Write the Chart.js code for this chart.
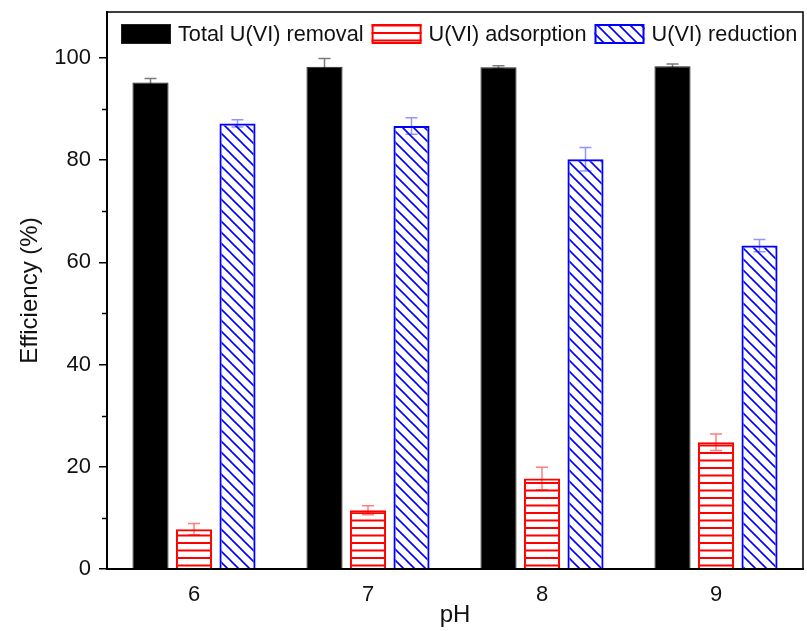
<!DOCTYPE html>
<html>
<head>
<meta charset="utf-8">
<script src="https://cdn.jsdelivr.net/npm/chart.js@4.4.0/dist/chart.umd.min.js"></script>
<style>
  html, body { margin: 0; padding: 0; background: #fff; }
</style>
</head>
<body>
<canvas id="chart" width="807" height="631"></canvas>
<script>
// pH groups and efficiencies (%)
const categories = ['6', '7', '8', '9'];
const totalRemoval = [95.2, 98.3, 98.2, 98.4];
const totalRemovalErr = [0.8, 1.6, 0.3, 0.4];
const adsorption = [7.8, 11.5, 17.7, 24.8];
const adsorptionErr = [1.1, 0.9, 2.2, 1.6];
const reduction = [87.2, 86.7, 80.2, 63.3];
const reductionErr = [0.7, 1.6, 2.3, 1.2];
const yTicks = [0, 20, 40, 60, 80, 100];
const yMinorTicks = [10, 30, 50, 70, 90];

const FONT = "'Liberation Sans', Arial, sans-serif";
const canvas = document.getElementById('chart');
const ctx = canvas.getContext('2d');

// horizontal stripes (no background, so error bars behind show through)
function hLines(color) {
  const c = document.createElement('canvas');
  c.width = 8; c.height = 15;
  const g = c.getContext('2d');
  g.strokeStyle = color;
  g.lineWidth = 1.8;
  g.beginPath();
  g.moveTo(0, 3); g.lineTo(8, 3);
  g.moveTo(0, 10.5); g.lineTo(8, 10.5);
  g.stroke();
  return ctx.createPattern(c, 'repeat');
}

// diagonal "\" hatching
function diagLines(color) {
  const s = 11;
  const c = document.createElement('canvas');
  c.width = s; c.height = s;
  const g = c.getContext('2d');
  g.strokeStyle = color;
  g.lineWidth = 1.6;
  g.beginPath();
  g.moveTo(0, 0); g.lineTo(s, s);
  g.moveTo(-2, s - 2); g.lineTo(2, s + 2);
  g.moveTo(s - 2, -2); g.lineTo(s + 2, 2);
  g.stroke();
  return ctx.createPattern(c, 'repeat');
}

// error bars are drawn behind the bars, like the original
const errorBars = {
  id: 'errorBars',
  beforeDatasetsDraw(chart) {
    const { ctx, scales: { y } } = chart;
    chart.data.datasets.forEach((ds, i) => {
      const meta = chart.getDatasetMeta(i);
      ctx.save();
      ctx.strokeStyle = ds.errColor;
      ctx.lineWidth = 1.5;
      meta.data.forEach((bar, j) => {
        const v = ds.data[j], e = ds.errors[j];
        const top = y.getPixelForValue(v + e);
        const bot = y.getPixelForValue(v - e);
        const hw = 6;
        ctx.beginPath();
        ctx.moveTo(bar.x, top); ctx.lineTo(bar.x, bot);
        ctx.moveTo(bar.x - hw, top); ctx.lineTo(bar.x + hw, top);
        ctx.moveTo(bar.x - hw, bot); ctx.lineTo(bar.x + hw, bot);
        ctx.stroke();
      });
      ctx.restore();
    });
  }
};

// top/right frame, minor y ticks and the in-plot legend row
const frame = {
  id: 'frame',
  afterDraw(chart) {
    const { ctx, chartArea: a, scales: { y } } = chart;
    ctx.save();
    ctx.strokeStyle = '#000';
    ctx.lineWidth = 1.5;
    ctx.beginPath();
    ctx.moveTo(a.left, a.top); ctx.lineTo(a.right, a.top); ctx.lineTo(a.right, a.bottom);
    yMinorTicks.forEach(v => {
      const py = Math.round(y.getPixelForValue(v)) + 0.5;
      ctx.moveTo(a.left - 5, py); ctx.lineTo(a.left, py);
    });
    ctx.stroke();

    // legend
    ctx.font = '21.7px ' + FONT;
    ctx.textBaseline = 'middle';
    let x = a.left + 14;
    const top = a.top + 12, bw = 50, bh = 20;
    chart.data.datasets.forEach(ds => {
      ctx.fillStyle = ds.backgroundColor;
      ctx.fillRect(x, top, bw, bh);
      ctx.strokeStyle = ds.borderColor;
      ctx.lineWidth = ds.borderWidth;
      ctx.strokeRect(x + ds.borderWidth / 2, top + ds.borderWidth / 2, bw - ds.borderWidth, bh - ds.borderWidth);
      x += bw + 7;
      ctx.fillStyle = '#111';
      ctx.fillText(ds.label, x, top + bh / 2 + 1);
      x += ctx.measureText(ds.label).width + 8;
    });
    ctx.restore();
  }
};

new Chart(ctx, {
  type: 'bar',
  data: {
    labels: categories,
    datasets: [
      {
        label: 'Total U(VI) removal',
        data: totalRemoval,
        errors: totalRemovalErr,
        errColor: 'rgba(90, 90, 90, 0.8)',
        backgroundColor: '#000',
        borderColor: '#222',
        borderWidth: 1
      },
      {
        label: 'U(VI) adsorption',
        data: adsorption,
        errors: adsorptionErr,
        errColor: 'rgba(255, 40, 40, 0.6)',
        backgroundColor: hLines('#ff0000'),
        borderColor: '#ff0000',
        borderWidth: 2
      },
      {
        label: 'U(VI) reduction',
        data: reduction,
        errors: reductionErr,
        errColor: 'rgba(60, 60, 255, 0.55)',
        backgroundColor: diagLines('#0000ff'),
        borderColor: '#0000ff',
        borderWidth: 2
      }
    ]
  },
  options: {
    responsive: false,
    animation: false,
    categoryPercentage: 0.75,
    barPercentage: 0.83,
    layout: { padding: { left: 0, right: 4, top: 12, bottom: 0 } },
    plugins: {
      legend: { display: false },
      tooltip: { enabled: false }
    },
    scales: {
      x: {
        grid: { display: false, drawTicks: true, tickLength: 8 },
        border: { display: true, color: '#000', width: 2 },
        ticks: { color: '#111', padding: 5, font: { family: FONT, size: 22 } },
        title: {
          display: true,
          text: 'pH',
          color: '#111',
          font: { family: FONT, size: 24 },
          padding: { top: 0, bottom: 1 }
        },
        afterFit(s) { s.height = 62; s.paddingLeft = 0; s.paddingRight = 0; }
      },
      y: {
        min: 0,
        max: 109,
        afterBuildTicks(s) { s.ticks = yTicks.map(v => ({ value: v })); },
        grid: { drawOnChartArea: false, tickLength: 8, color: '#000', lineWidth: 1.5 },
        border: { color: '#000', width: 2 },
        ticks: { color: '#111', padding: 8, font: { family: FONT, size: 22 } },
        title: {
          display: true,
          text: 'Efficiency (%)',
          color: '#111',
          font: { family: FONT, size: 24 },
          padding: { top: 16 }
        },
        afterFit(s) { s.width = 107; s.paddingTop = 0; s.paddingBottom = 0; }
      }
    }
  },
  plugins: [errorBars, frame]
});
</script>
</body>
</html>
